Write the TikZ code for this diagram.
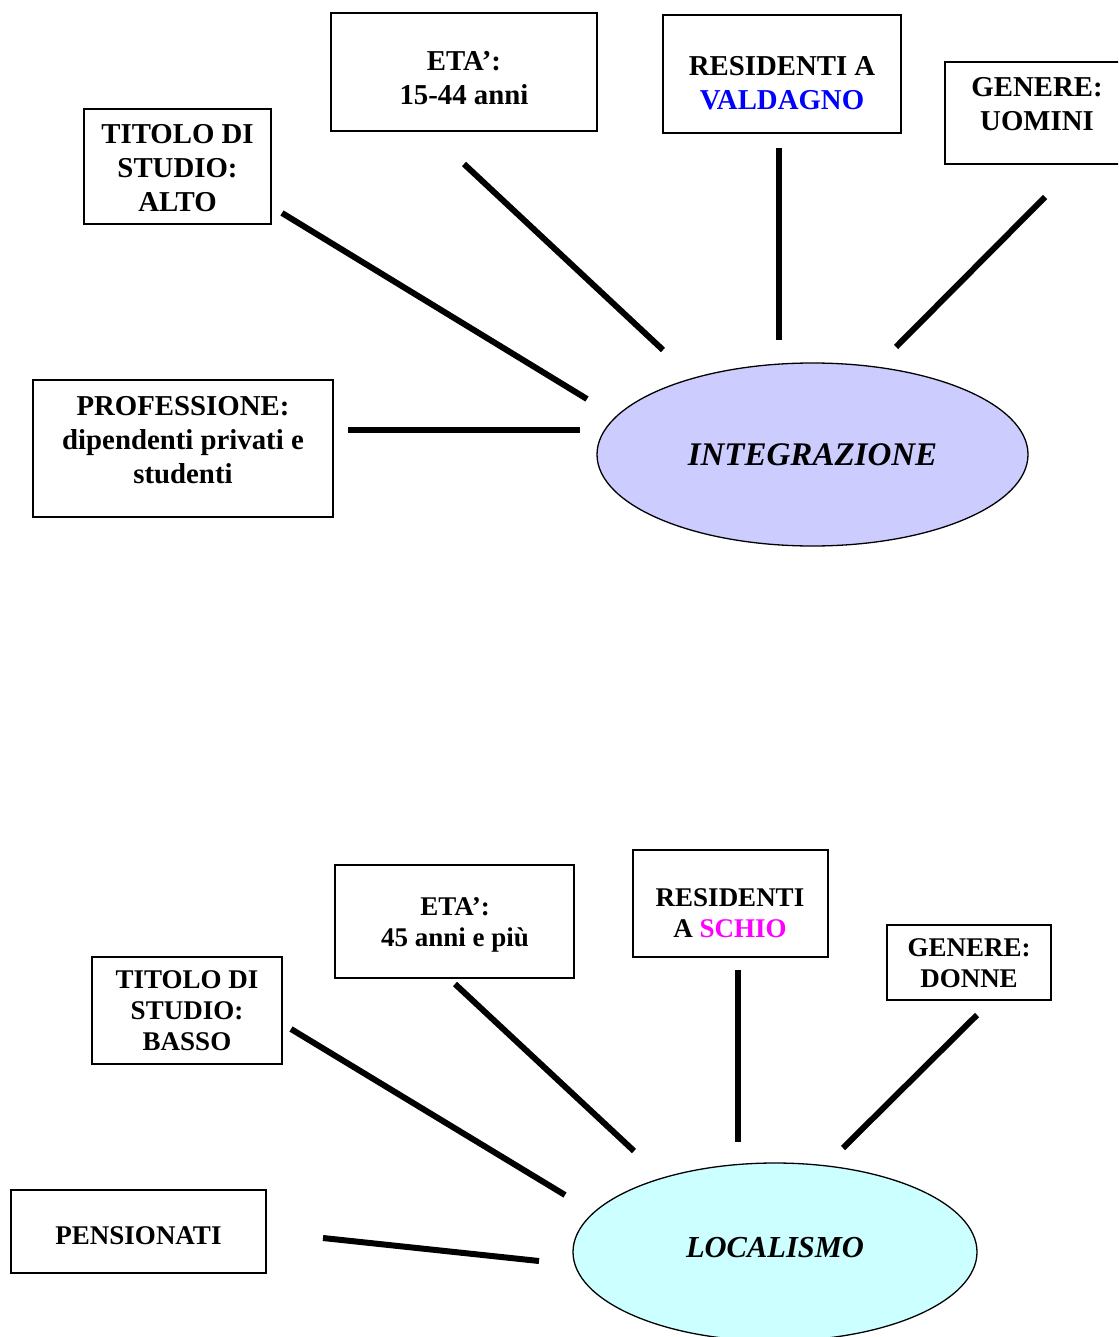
\documentclass[tikz,border=0pt]{standalone}
\usepackage{fontspec}
\setmainfont{Liberation Serif}
\usetikzlibrary{shapes.geometric}
\definecolor{lav}{RGB}{204,204,255}
\definecolor{cyanl}{RGB}{204,255,255}
\definecolor{vblue}{RGB}{0,0,255}
\definecolor{vmag}{RGB}{255,0,255}
\tikzset{
  boxa/.style={draw, line width=1.6pt, inner sep=0pt},
  txta/.style={align=center, inner sep=0pt, font=\fontsize{28.8}{34}\selectfont\bfseries},
  txtb/.style={align=center, inner sep=0pt, font=\fontsize{27}{31}\selectfont\bfseries},
  ell/.style={draw, ellipse, line width=1.3pt, inner sep=0pt},
  conn/.style={line width=6pt}
}
\begin{document}
\begin{tikzpicture}[x=1pt,y=-1pt]
\clip (0,0) rectangle (1118,1337);
\fill[white] (0,0) rectangle (1118,1337);
% ---------- top section ----------
\node[boxa, minimum width=187, minimum height=115] (tsa) at (177.5,166.5) {};
\node[txta] (tsat) at (177.5,168) {TITOLO DI\\STUDIO:\\ALTO};
\node[boxa, minimum width=266, minimum height=118] (eta) at (464,72) {};
\node[txta] (etat) at (464,78) {ETA’:\\15-44 anni};
\node[boxa, minimum width=238, minimum height=118] (rva) at (782,74) {};
\node[txta] (rvat) at (782,83.5) {RESIDENTI A\\\textcolor{vblue}{VALDAGNO}};
\node[boxa, minimum width=186, minimum height=102] (gua) at (1038,113) {};
\node[txta] (guat) at (1037,104) {GENERE:\\UOMINI};
\node[boxa, minimum width=300, minimum height=137] (pra) at (183,448.5) {};
\node[txta] (prat) at (183,440) {PROFESSIONE:\\dipendenti privati e\\studenti};
\node[ell, fill=lav, minimum width=431, minimum height=183,
      font=\fontsize{33}{38}\selectfont\bfseries\itshape] (integ) at (812.5,454.5) {INTEGRAZIONE};

\coordinate (a1) at (282,213);  \coordinate (a2) at (587,399);
\coordinate (b1) at (464,164);  \coordinate (b2) at (663,350);
\coordinate (c1) at (779,148);  \coordinate (c2) at (779,340);
\coordinate (d1) at (1045,197); \coordinate (d2) at (896,347);
\coordinate (e1) at (348,430);  \coordinate (e2) at (580,430);
\draw[conn] (a1) -- (a2);
\draw[conn] (b1) -- (b2);
\draw[conn] (c1) -- (c2);
\draw[conn] (d1) -- (d2);
\draw[conn] (e1) -- (e2);

% ---------- bottom section ----------
\node[boxa, minimum width=239, minimum height=113] (etb) at (454.5,921.5) {};
\node[txtb] (etbt) at (455,925) {ETA’:\\45 anni e più};
\node[boxa, minimum width=195, minimum height=107] (rsb) at (730.5,903.5) {};
\node[txtb] (rsbt) at (730,913) {RESIDENTI\\A \textcolor{vmag}{SCHIO}};
\node[boxa, minimum width=164, minimum height=75] (gdb) at (969,962.5) {};
\node[txtb] (gdbt) at (969,963) {GENERE:\\DONNE};
\node[boxa, minimum width=190, minimum height=107] (tsb) at (187,1010.5) {};
\node[txtb] (tsbt) at (187,1011) {TITOLO DI\\STUDIO:\\BASSO};
\node[boxa, minimum width=255, minimum height=83] (pnb) at (138.5,1231.5) {};
\node[txtb] (pnbt) at (138.5,1236) {PENSIONATI};
\node[ell, fill=cyanl, minimum width=404, minimum height=178,
      font=\fontsize{30.5}{35}\selectfont\bfseries\itshape] (local) at (775,1252) {\raisebox{9pt}{LOCALISMO}};

\coordinate (f1) at (291,1029);  \coordinate (f2) at (565,1195);
\coordinate (g1) at (455,984);   \coordinate (g2) at (634,1151);
\coordinate (h1) at (738,970);   \coordinate (h2) at (738,1142);
\coordinate (i1) at (977,1015);  \coordinate (i2) at (843,1148);
\coordinate (j1) at (323,1238);  \coordinate (j2) at (539,1261);
\draw[conn] (f1) -- (f2);
\draw[conn] (g1) -- (g2);
\draw[conn] (h1) -- (h2);
\draw[conn] (i1) -- (i2);
\draw[conn] (j1) -- (j2);
\end{tikzpicture}
\end{document}
